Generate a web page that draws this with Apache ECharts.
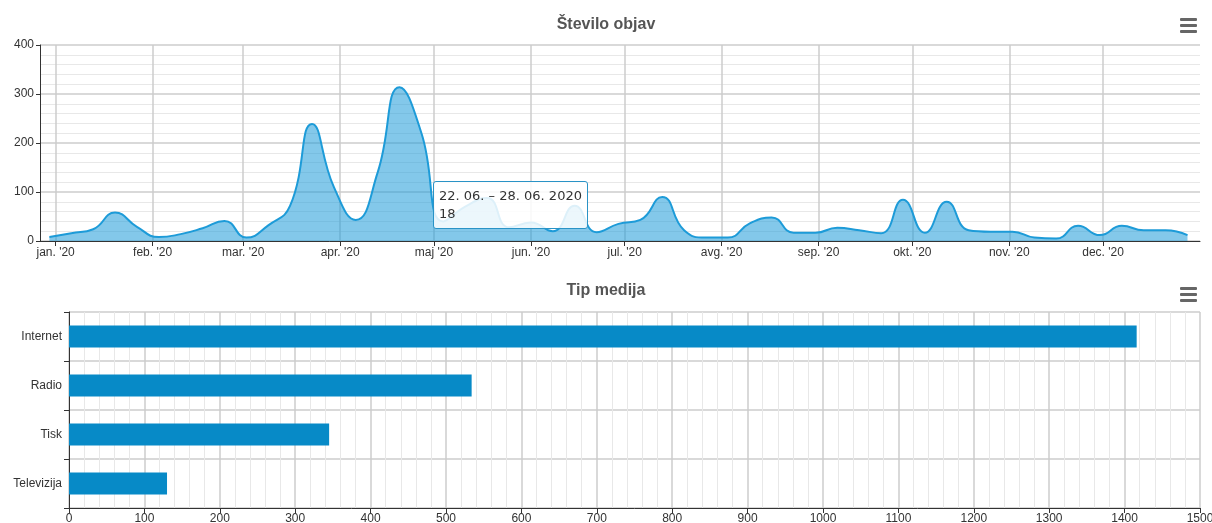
<!DOCTYPE html>
<html>
<head>
<meta charset="utf-8">
<title>Število objav</title>
<script src="https://cdn.jsdelivr.net/npm/echarts@6/dist/echarts.min.js"></script>
<style>
html, body { margin: 0; padding: 0; background: #fff; }
#main { width: 1212px; height: 523px; }
</style>
</head>
<body>
<div id="main"></div>
<script>
// tedenski podatki (ponedeljek v tednu)
var weekStarts = [
    '2019-12-30', '2020-01-06', '2020-01-13', '2020-01-20', '2020-01-27',
    '2020-02-03', '2020-02-10', '2020-02-17', '2020-02-24', '2020-03-02',
    '2020-03-09', '2020-03-16', '2020-03-23', '2020-03-30', '2020-04-06',
    '2020-04-13', '2020-04-20', '2020-04-27', '2020-05-04', '2020-05-11',
    '2020-05-18', '2020-05-25', '2020-06-01', '2020-06-08', '2020-06-15',
    '2020-06-22', '2020-06-29', '2020-07-06', '2020-07-13', '2020-07-20',
    '2020-07-27', '2020-08-03', '2020-08-10', '2020-08-17', '2020-08-24',
    '2020-08-31', '2020-09-07', '2020-09-14', '2020-09-21', '2020-09-28',
    '2020-10-05', '2020-10-12', '2020-10-19', '2020-10-26', '2020-11-02',
    '2020-11-09', '2020-11-16', '2020-11-23', '2020-11-30', '2020-12-07',
    '2020-12-14', '2020-12-21', '2020-12-28'
];
var weekCounts = [
    8, 16, 24, 58, 29,
    8, 14, 26, 41, 7,
    32, 72, 239, 110, 43,
    140, 314, 220, 40, 70,
    88, 28, 38, 20, 72,
    18, 35, 43, 90, 22,
    7, 7, 36, 48, 17,
    17, 27, 22, 16, 84,
    17, 80, 22, 19, 19,
    7, 5, 31, 12, 31,
    22, 22, 12
];

var monthStarts = [
    '2020-01-01', '2020-02-01', '2020-03-01', '2020-04-01', '2020-05-01', '2020-06-01',
    '2020-07-01', '2020-08-01', '2020-09-01', '2020-10-01', '2020-11-01', '2020-12-01'
];
var monthLabels = [
    "jan. '20", "feb. '20", "mar. '20", "apr. '20", "maj '20", "jun. '20",
    "jul. '20", "avg. '20", "sep. '20", "okt. '20", "nov. '20", "dec. '20"
];

var mediaTypes = ['Internet', 'Radio', 'Tisk', 'Televizija'];
var mediaCounts = [1416, 534, 345, 130];

var tipIndex = 25; // 22. 06. - 28. 06.

function toDate(s) {
    var p = s.split('-');
    return new Date(+p[0], +p[1] - 1, +p[2]);
}
function toTime(s) {
    return toDate(s).getTime();
}
function pad(n) {
    return (n < 10 ? '0' : '') + n;
}
function fmtDay(d) {
    return pad(d.getDate()) + '. ' + pad(d.getMonth() + 1) + '.';
}

var monthTimes = monthStarts.map(toTime);
var lineData = weekStarts.map(function (d, i) {
    return [toTime(d), weekCounts[i]];
});

var font = 'Liberation Sans, Arial, sans-serif';
var axisColor = '#333';
var gridColor = '#cdcdcd';
var minorColor = '#e8e8e8';

var chart = echarts.init(document.getElementById('main'));

var option = {
    animation: false,
    title: [
        {
            text: 'Število objav',
            left: 'center',
            top: 12,
            textStyle: { fontFamily: font, fontSize: 16, fontWeight: 'bold', color: '#555' }
        },
        {
            text: 'Tip medija',
            left: 'center',
            top: 278,
            textStyle: { fontFamily: font, fontSize: 16, fontWeight: 'bold', color: '#555' }
        }
    ],
    tooltip: {
        trigger: 'axis',
        triggerOn: 'none',
        alwaysShowContent: true,
        axisPointer: { type: 'none' },
        position: [433, 181],
        transitionDuration: 0,
        backgroundColor: 'rgba(255,255,255,0.85)',
        borderColor: '#2a93c6',
        borderWidth: 1,
        padding: [5, 5],
        textStyle: { fontFamily: 'DejaVu Sans', fontSize: 13, color: '#333', lineHeight: 18 },
        extraCssText: 'box-shadow:none;border-radius:3px;',
        formatter: function (params) {
            var i = params[0].dataIndex;
            var s = toDate(weekStarts[i]);
            var e = new Date(s.getFullYear(), s.getMonth(), s.getDate() + 6);
            return fmtDay(s) + ' – ' + fmtDay(e) + ' ' + e.getFullYear() + '<br>' + weekCounts[i];
        }
    },
    grid: [
        { left: 40, right: 12, top: 45, height: 196, outerBoundsMode: 'none' },
        { left: 69, right: 12, top: 312, height: 196, outerBoundsMode: 'none' }
    ],
    xAxis: [
        {
            type: 'value',
            gridIndex: 0,
            min: toTime('2019-12-27'),
            max: toTime('2021-01-01'),
            axisLine: { show: true, lineStyle: { color: axisColor, width: 1 } },
            axisTick: { show: true, customValues: monthTimes, length: 5, lineStyle: { color: axisColor } },
            axisLabel: {
                customValues: monthTimes,
                color: axisColor,
                fontFamily: font,
                fontSize: 12,
                margin: 6,
                formatter: function (value) {
                    for (var i = 0; i < monthTimes.length; i++) {
                        if (Math.abs(monthTimes[i] - value) < 3600000 * 12) return monthLabels[i];
                    }
                    return '';
                }
            },
            splitLine: { show: true, lineStyle: { color: gridColor, width: 1.5 } }
        },
        {
            type: 'value',
            gridIndex: 1,
            min: 0,
            max: 1500,
            interval: 100,
            axisLine: { show: true, lineStyle: { color: axisColor, width: 1 } },
            axisTick: { show: true, length: 5, lineStyle: { color: axisColor } },
            axisLabel: {
                color: axisColor, fontFamily: font, fontSize: 12, margin: 5,
                formatter: function (v) { return String(v); }
            },
            splitLine: { show: true, lineStyle: { color: gridColor, width: 1.5 } },
            minorTick: { show: false, splitNumber: 5 },
            minorSplitLine: { show: true, lineStyle: { color: minorColor, width: 1 } }
        }
    ],
    yAxis: [
        {
            type: 'value',
            gridIndex: 0,
            min: 0,
            max: 400,
            interval: 100,
            axisLine: { show: true, lineStyle: { color: axisColor, width: 1 } },
            axisTick: { show: true, length: 4, lineStyle: { color: axisColor } },
            axisLabel: { color: axisColor, fontFamily: font, fontSize: 12, margin: 6 },
            splitLine: { show: true, lineStyle: { color: gridColor, width: 1.5 } },
            minorTick: { show: false, splitNumber: 5 },
            minorSplitLine: { show: true, lineStyle: { color: minorColor, width: 1 } }
        },
        {
            type: 'category',
            gridIndex: 1,
            data: mediaTypes,
            inverse: true,
            axisLine: { show: true, lineStyle: { color: axisColor, width: 1 } },
            axisTick: { show: true, length: 5, lineStyle: { color: axisColor } },
            axisLabel: { color: axisColor, fontFamily: font, fontSize: 12, margin: 7 },
            splitLine: { show: true, lineStyle: { color: gridColor, width: 1.5 } }
        }
    ],
    series: [
        {
            name: 'Število objav',
            type: 'line',
            xAxisIndex: 0,
            yAxisIndex: 0,
            data: lineData,
            smooth: true,
            symbol: 'none',
            lineStyle: { color: '#1b8dc5', width: 2 },
            itemStyle: { color: '#1b8dc5' },
            areaStyle: { color: '#1b8dc5', opacity: 0.55 }
        },
        {
            name: 'Tip medija',
            type: 'bar',
            xAxisIndex: 1,
            yAxisIndex: 1,
            data: mediaCounts,
            barWidth: 22,
            itemStyle: { color: '#078ac7' }
        }
    ],
    graphic: [
        { type: 'rect', left: 1180, top: 18, shape: { width: 17, height: 3, r: 1 }, style: { fill: '#666' } },
        { type: 'rect', left: 1180, top: 24, shape: { width: 17, height: 3, r: 1 }, style: { fill: '#666' } },
        { type: 'rect', left: 1180, top: 30, shape: { width: 17, height: 3, r: 1 }, style: { fill: '#666' } },
        { type: 'rect', left: 1180, top: 287, shape: { width: 17, height: 3, r: 1 }, style: { fill: '#666' } },
        { type: 'rect', left: 1180, top: 293, shape: { width: 17, height: 3, r: 1 }, style: { fill: '#666' } },
        { type: 'rect', left: 1180, top: 299, shape: { width: 17, height: 3, r: 1 }, style: { fill: '#666' } }
    ]
};

chart.setOption(option);
chart.dispatchAction({ type: 'showTip', seriesIndex: 0, dataIndex: tipIndex });
</script>
</body>
</html>
